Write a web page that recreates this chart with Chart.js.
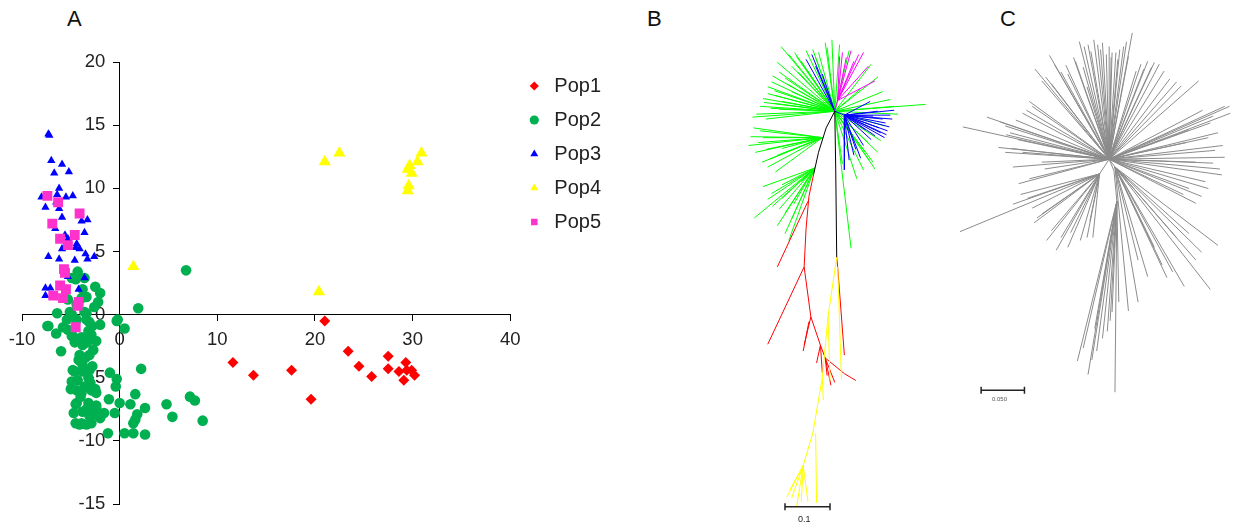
<!DOCTYPE html>
<html>
<head>
<meta charset="utf-8">
<script src="https://cdn.jsdelivr.net/npm/chart.js@4.4.1/dist/chart.umd.min.js"></script>
<style>
  body { margin:0; background:#fff; width:1236px; height:525px; position:relative; overflow:hidden;
         font-family:'Liberation Sans', Arial, sans-serif; }
  .panel { position:absolute; top:0; height:525px; }
  .tag { position:absolute; top:6px; font-size:22px; color:#111; }
  .bar { position:absolute; color:#222; }
</style>
</head>
<body>
<div class="tag" style="left:67px">A</div>
<div class="tag" style="left:647px">B</div>
<div class="tag" style="left:1000px">C</div>

<div class="panel" style="left:0;width:640px"><canvas id="pca"></canvas></div>
<div class="panel" style="left:700px;width:260px"><canvas id="treeB"></canvas></div>
<div class="panel" style="left:940px;width:296px"><canvas id="treeC"></canvas></div>

<div class="bar" style="left:798px;top:514px;font-size:9px">0.1</div>
<div class="bar" style="left:992px;top:396px;font-size:6px;color:#555">0.050</div>

<script>
// ── Panel A: PCA scores (PC1 × PC2) ───────────────────────────
const popNames = ['Pop1', 'Pop2', 'Pop3', 'Pop4', 'Pop5'];

const pop1 = [[11.6,-3.8],[13.7,-4.8],[17.6,-4.4],[19.6,-6.7],[21.0,-0.5],[23.4,-2.9],
  [24.5,-4.1],[25.8,-4.9],[27.5,-3.3],[27.5,-4.3],[28.6,-4.5],[29.3,-3.8],[29.1,-5.2],
  [29.4,-4.4],[29.9,-4.4],[30.2,-4.8]];

const pop2 = [[6.8,3.5],[1.9,0.5],[-4.3,3.4],[-2.5,2.2],[-2.2,1.0],[-6.4,0.1],[-7.3,-0.9],
  [-6.5,-1.5],[-6.0,-2.9],[-0.3,-0.5],[0.5,-1.1],[-2.4,-2.1],[2.2,-4.3],[-1.0,-4.6],
  [-0.3,-5.1],[-0.4,-5.7],[-4.8,-4.4],[-4.9,-5.3],[-2.5,-5.9],[-1.1,-6.7],[1.6,-6.3],
  [0.0,-7.0],[1.1,-7.1],[2.6,-7.4],[4.8,-7.1],[7.2,-6.5],[7.7,-6.8],[5.4,-8.1],[8.5,-8.4],
  [-0.5,-7.8],[1.6,-8.3],[1.8,-7.9],[1.4,-8.6],[-1.2,-9.4],[0.5,-9.4],[1.4,-9.4],[2.6,-9.5],
  [-4.5,-7.1],[-4.5,-8.6],[-4.1,-8.7],[-3.4,-8.7],[-2.9,-8.6],[-2.0,-8.2],[-1.6,-7.8],
  [-2.4,-7.4],[-3.8,-7.7],[-3.2,-7.0],[-4.0,-6.5],[-3.6,-5.7],[-4.3,-5.2],[-3.2,-5.0],
  [-3.1,-4.4],[-3.8,-4.0],[-4.1,-3.2],[-3.1,-3.2],[-3.8,-2.4],[-3.9,-1.8],[-2.8,-0.9],
  [-3.2,-1.3],[-5.3,-1.2],[-4.9,-1.7],[-4.6,-2.2],[-3.4,0.1],[-5.4,-0.4],[-5.1,0.2],
  [-3.9,1.3],[-3.4,-0.4],[-2.9,-6.0],[-2.4,-6.2],[-4.4,-7.0],[-3.4,-7.5],[-2.4,-7.2],
  [-3.9,-8.6],[-2.7,-2.8],[-4.6,-4.5],[-3.8,-4.5],[-2.8,-4.1],[-4.5,2.8],[-4.9,2.9],
  [-3.8,2.0],[-5.3,1.2],[-2.6,0.6],[-3.6,0.2],[-4.9,0.0],[-4.4,-0.4],[-7.4,-0.9],
  [-5.8,-1.0],[-3.1,-0.6],[-2.9,-1.6],[-3.8,-2.0],[-4.8,-1.7],[-0.2,-0.4],[-2.0,-0.8],
  [-3.6,2.9],[-3.4,1.4],[-4.4,0.8],[-2.0,1.7],[-4.2,-3.6],[-3.5,-3.4],[-4.4,-6.0],
  [-3.0,-5.4],[-3.9,-6.2],[-4.7,-7.8],[-2.6,-7.9],[-3.1,-8.0],[-5.0,-5.9],[-3.3,-2.2]];

const pop3 = [[-7.3,14.3],[-7.2,14.2],[-7.0,12.2],[-5.9,11.9],[-6.7,11.2],[-5.2,11.3],
  [-6.2,10.0],[-6.4,9.5],[-8.0,9.3],[-7.6,8.5],[-5.5,9.3],[-4.8,9.4],[-6.2,8.4],[-5.9,7.7],
  [-6.6,6.8],[-3.9,7.4],[-3.3,7.5],[-3.6,6.5],[-5.3,6.0],[-5.9,5.2],[-4.4,5.6],[-4.1,5.2],
  [-7.3,4.6],[-6.2,4.4],[-4.6,4.3],[-3.5,4.8],[-3.3,4.4],[-2.6,4.6],[-3.6,2.9],[-5.3,3.0],
  [-7.6,2.1],[-7.1,2.1],[-7.6,1.5],[-4.2,2.0],[-6.5,8.9],[-5.6,6.3],[-4.5,5.3]];

const pop4 = [[1.4,3.8],[20.4,1.8],[21.0,12.1],[22.5,12.8],[29.5,11.5],[29.7,11.8],[29.9,11.2],
  [30.5,12.1],[30.9,12.8],[29.6,10.2],[29.5,9.8]];

const pop5 = [[-7.4,9.4],[-6.3,8.9],[-4.1,8.0],[-6.9,7.2],[-6.1,6.0],[-5.3,5.5],[-4.6,6.3],
  [-5.7,3.6],[-5.6,3.3],[-6.1,2.3],[-5.5,2.0],[-6.8,1.5],[-5.8,1.3],[-4.2,1.0],[-4.3,0.7],
  [-4.5,-1.0]];

const xTicks = [-10, 0, 10, 20, 30, 40];
const yTicks = [-15, -10, -5, 0, 5, 10, 15, 20];

const FONT = "'Liberation Sans', Arial, sans-serif";
const xy = arr => arr.map(p => ({ x: p[0], y: p[1] }));

// style per population: colour, marker, radius, draw order (lower = on top)
const popStyle = [
  { c: '#ff0000', s: 'rectRot',  r: 5.5, o: 2 },
  { c: '#00b050', s: 'circle',   r: 5.3, o: 5 },
  { c: '#0000ff', s: 'triangle', r: 4.8, o: 4 },
  { c: '#ffff00', s: 'triangle', r: 7,   o: 3 },
  { c: '#ff33cc', s: 'rect',     r: 7,   o: 1 }
];
const popData = [pop1, pop2, pop3, pop4, pop5];

const axisCommon = {
  type: 'linear',
  border: { display: true, color: '#000', width: 1, dash: [3, 2] },
  grid: { drawOnChartArea: false, drawTicks: true, tickLength: 6, color: '#000' },
  ticks: { font: { family: FONT, size: 18.5 }, color: '#222', maxRotation: 0, padding: 8 }
};

new Chart(document.getElementById('pca'), {
  type: 'scatter',
  data: {
    datasets: popData.map((d, i) => ({
      label: popNames[i],
      data: xy(d),
      order: popStyle[i].o,
      pointStyle: popStyle[i].s,
      pointRadius: popStyle[i].r,
      pointBackgroundColor: popStyle[i].c,
      backgroundColor: popStyle[i].c,
      borderColor: popStyle[i].c,
      pointBorderWidth: 0,
      borderWidth: 0
    }))
  },
  options: {
    responsive: true,
    maintainAspectRatio: false,
    animation: false,
    layout: { padding: { left: 22, top: 62, bottom: 21, right: 29 } },
    plugins: {
      tooltip: { enabled: false },
      legend: {
        position: 'right',
        align: 'start',
        labels: {
          usePointStyle: true,
          boxWidth: 20,
          boxHeight: 6.5,
          padding: 14,
          color: '#222',
          font: { family: FONT, size: 20 },
          sort: (a, b) => a.datasetIndex - b.datasetIndex
        }
      }
    },
    scales: {
      x: {
        ...axisCommon,
        min: -10, max: 40,
        position: { y: 0 },
        afterBuildTicks: s => { s.ticks = xTicks.map(v => ({ value: v })); }
      },
      y: {
        ...axisCommon,
        min: -15, max: 20,
        position: { x: 0 },
        afterBuildTicks: s => { s.ticks = yTicks.map(v => ({ value: v })); },
        // labels of a value-positioned y axis sit flush on the line; keep them off it
        ticks: { ...axisCommon.ticks, callback: v => v + '\u2002\u2008' }
      }
    }
  }
});

// ── Tree helpers: each clade = branch lines drawn as one gapped line dataset ──
const GAP = { x: null, y: null };
function fan(origin, tips) {
  const out = [];
  tips.forEach(t => out.push({ x: origin[0], y: origin[1] }, { x: t[0], y: t[1] }, GAP));
  return out;
}
function paths(list) {
  const out = [];
  list.forEach(p => { p.forEach(n => out.push({ x: n[0], y: n[1] })); out.push(GAP); });
  return out;
}
function treeChart(id, xr, yr, sets, bar) {
  const datasets = sets.map((s, i) => ({
    data: s.data, showLine: true, spanGaps: false, borderColor: s.color,
    borderWidth: 1, pointRadius: 0, order: sets.length - i
  }));
  datasets.push({
    data: xy(bar), showLine: true, borderColor: '#222', borderWidth: 1.5,
    pointStyle: 'line', rotation: 90, pointRadius: 3.5, pointBorderColor: '#222',
    pointBorderWidth: 1.5, order: 0
  });
  new Chart(document.getElementById(id), {
    type: 'scatter',
    data: { datasets },
    options: {
      responsive: true, maintainAspectRatio: false, animation: false,
      layout: { padding: 0 },
      plugins: { legend: { display: false }, tooltip: { enabled: false } },
      scales: {
        x: { display: false, min: xr[0], max: xr[1] },
        y: { display: false, min: yr[0], max: yr[1] }
      }
    }
  });
}

// ── Panel B: coloured NJ tree (layout units, root at 0,0, y up) ──
const bBlack = [[[0,0],[1,-60],[2,-149]], [[0,0],[-9,-17],[-17,-42],[-22,-64]]];
const bGreenRoot = [[-56,66],[-17,60],[-3,73],[-8,65],[5,68],[-65,36],[-63,21],[-62,16],[-63,8],
  [-82,-3],[-67,3],[-35,51],[-28,41],[-45,46],[-50,28],[-75,13],[38,48],[45,35],[95,7],[52,-15],
  [40,-52],[42,-59],[23,-69],[17,-140],[8,-54],[32,-42],[35,-32],[45,-42],[27,23],[-10,70],
  [-23,63],[-40,56],[-70,25],[-58,40],[-72,-8],[62,5],[30,-60],[-60,50],[-48,58],[-30,62],
  [-38,40],[-70,18],[-55,10],[-78,5],[-45,20],[-20,55],[15,62],[50,20],[58,12],[48,-30],
  [-66,30],[-52,34],[-74,9],[-58,2],[-86,-6],[-42,60],[66,-3],[36,-50]];
const bGreenN1 = [[-90,-35],[-75,-27],[-78,-20],[-72,-39],[-68,-49],[-70,-57],[-62,-62],[-85,-17],
  [-80,-32],[-60,-45],[-55,-38],[-88,-26],[-83,-42],[-76,-52]];
const bGreenN2 = [[-55,-75],[-75,-77],[-84,-109],[-55,-89],[-65,-97],[-52,-104],[-60,-117],
  [-52,-125],[-45,-110],[-43,-95],[-35,-72],[-48,-132],[-70,-90],[-66,-84],[-58,-100]];
const bBlueRoot = [[-30,53],[-20,46],[-13,38],[-24,58]];
const bBlueN = [[62,1],[58,-4],[53,-12],[55,-20],[52,-27],[38,-29],[32,-19],[22,-39],[10,-60],
  [37,10],[45,0],[60,-8],[57,-16],[48,-22],[42,-25],[30,-35],[15,-50],[50,-8],[46,-17],
  [20,-45],[27,-48],[40,-5],[54,-24]];
const bPink = [[30,60],[20,51],[8,60],[5,56],[12,55],[25,58],[42,31],[35,46],[17,62]];
const bRed = [
  [[-22,-64],[-27,-87],[-30,-120],[-32,-159],[-25,-210],[-15,-239],[-10,-252]],
  [[-28,-92],[-60,-159]], [[-32,-159],[-70,-238]], [[-25,-210],[-32,-239]],
  [[-27,-215],[-33,-245]], [[-15,-239],[-19,-257]], [[-15,-239],[-13,-267]],
  [[-10,-252],[-8,-270]], [[-10,-252],[0,-277]], [[-10,-252],[-4,-280]],
  [[-10,-252],[10,-268],[22,-275]], [[2,-149],[3,-159],[10,-249]]
];
const bYellow = [
  [[2,-149],[-7,-209],[-13,-272],[-23,-329],[-33,-362]],
  [[-20,-329],[-19,-400]], [[-13,-272],[-12,-295]], [[-7,-209],[-5,-275]], [[3,-159],[7,-274]]
];
const bYellowFan = [[-50,-394],[-45,-395],[-40,-405],[-35,-399],[-28,-399],[-47,-387]];
const bBar = [[-52,-404],[-5,-404]];

treeChart('treeB', [-135, 125], [-417, 108], [
  { color: '#00ff00', data: [...fan([0,0], bGreenRoot), ...fan([-13,-27], bGreenN1), ...fan([-21,-58], bGreenN2)] },
  { color: '#0000ff', data: [...fan([0,0], bBlueRoot), ...fan([10,-4], bBlueN), ...paths([[[0,0],[10,-4]]])] },
  { color: '#ff00ff', data: [...fan([3,11], bPink), ...paths([[[0,0],[3,11]]])] },
  { color: '#ff0000', data: paths(bRed) },
  { color: '#ffff00', data: [...paths(bYellow), ...fan([-33,-362], bYellowFan)] },
  { color: '#000000', data: paths(bBlack) }
], bBar);

// ── Panel C: uncoloured tree of all samples ──
const cRootTips = [[-31,120],[-26,115],[-22,117],[-16,122],[-12,117],[-7,119],[-3,107],[2,104],
  [3,109],[7,109],[11,112],[15,115],[24,129],[20,105],[28,90],[33,97],[40,100],[47,99],[52,97],
  [57,90],[63,82],[70,79],[75,75],[93,80],[-27,94],[-23,74],[-37,104],[-62,106],[-57,97],
  [-50,89],[-43,87],[-77,92],[-70,80],[-60,77],[-83,59],[-80,54],[-97,40],[-127,43],[-108,34],
  [-152,33],[-103,27],[-107,25],[-90,47],[-102,11],[-108,7],[-90,7],[-70,-3],[-67,-10],
  [-94,-25],[-83,-20],[-100,-8],[125,54],[126,47],[120,54],[97,50],[113,27],[83,30],[103,22],
  [120,2],[115,-10],[117,-16],[90,-3],[103,-30],[90,-45],[83,-30],[77,-36],[110,9],[105,37],
  [80,17],[100,-23],[-19,110],[-9,112],[0,115],[9,102],[18,120],[36,92],[44,94],[-45,96],
  [-66,84],[-86,50],[-113,38],[-95,20],[-115,12],[108,44],[118,14],[108,-4],[96,-38],[-35,100]];
const cLowLeft = [[-92,-36],[-100,-46],[-80,-50],[-78,-65],[-155,-74],[-70,-56],[-55,-93],
  [-50,-80],[-43,-90],[-30,-83],[-23,-80],[-17,-80],[-20,-63],[-60,-73],[-65,-83],[-85,-40],
  [-40,-75],[-75,-60]];
const cLowRight = [[113,-88],[105,-133],[78,-130],[60,-121],[70,-80],[83,-76],[47,-90],[30,-146],
  [20,-155],[30,-103],[90,-103],[55,-108],[96,-95],[66,-115],[40,-120]];
const cBottom = [[6,-238],[-22,-220],[-33,-206],[-13,-196],[-7,-183],[-2,-176],[3,-156],[10,-146],
  [-15,-173],[-27,-193],[-18,-205],[1,-165]];
const cInner = [[[0,0],[-10,-15]], [[0,0],[5,-12],[8,-43]], [[0,0],[6,-8]]];
const cBar = [[-133,-236],[-88,-236]];

treeChart('treeC', [-170, 126], [-368, 157], [
  { color: '#8c8c8c', data: [...fan([0,0], cRootTips), ...fan([-10,-15], cLowLeft),
      ...fan([6,-8], cLowRight), ...fan([8,-43], cBottom), ...paths(cInner)] }
], cBar);
</script>
</body>
</html>
